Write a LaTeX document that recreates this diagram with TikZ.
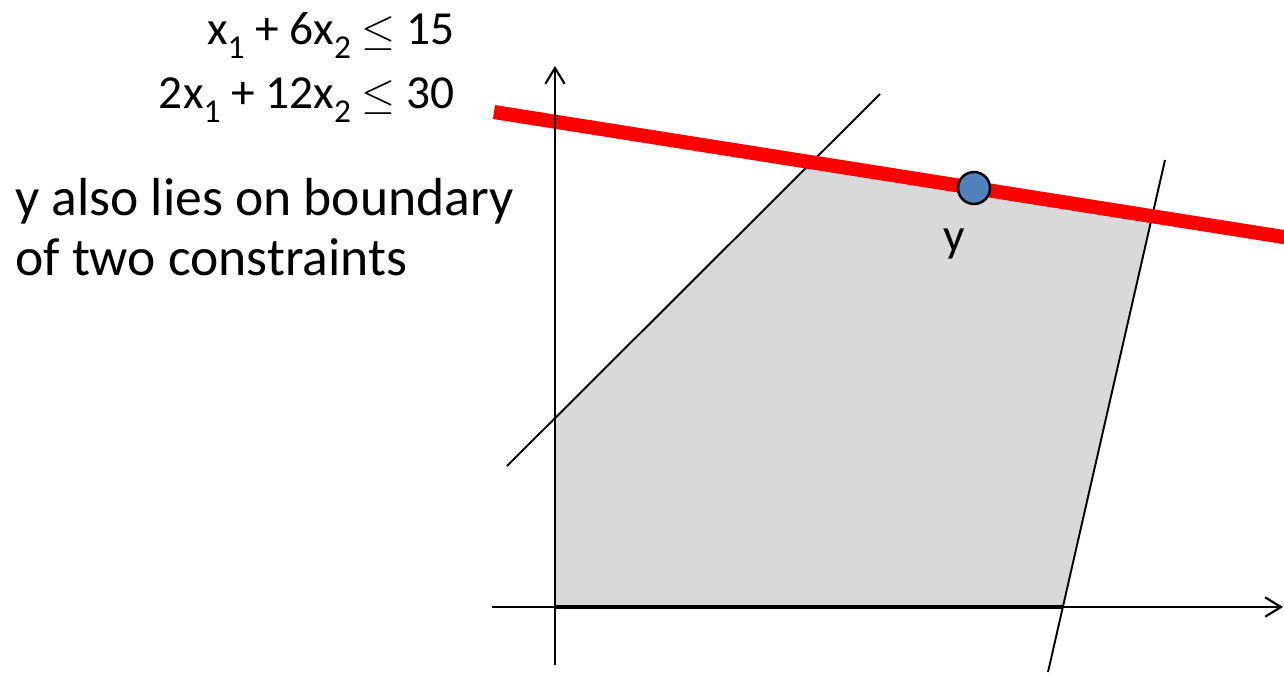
\documentclass[tikz,border=0pt]{standalone}
\usepackage{fontspec}
\setmainfont{Carlito}
\usetikzlibrary{arrows.meta, positioning, calc}
\definecolor{pointblue}{HTML}{4F81BD}
\definecolor{regiongray}{HTML}{D9D9D9}
\definecolor{tightred}{HTML}{FF0000}
\newcommand{\subidx}[1]{\raisebox{-0.3em}{\fontsize{19}{19}\selectfont #1}}

\begin{document}
\begin{tikzpicture}[
  x=0.02cm, y=-0.02cm,
  axis/.style={line width=1.2pt, -{Straight Barb[length=9pt, width=11pt, line width=1.2pt]}},
  constraint/.style={line width=1.1pt},
  tight/.style={line width=8pt, tightred},
  label/.style={font=\fontsize{27}{34}\selectfont, inner sep=0pt},
  remark/.style={font=\fontsize{30.5}{34}\selectfont, inner sep=0pt},
  point/.style={draw, circle, fill=pointblue, line width=1.4pt,
    minimum size=0.64cm, inner sep=0pt}
]
  \useasboundingbox (0,0) rectangle (1284,674);

  % Corners of the feasible region
  \coordinate (orig) at (554,607);
  \coordinate (cA) at (554,419);
  \coordinate (cB) at (811.8,162.3);
  \coordinate (cC) at (1152.2,216.1);
  \coordinate (cD) at (1062.9,607);
  \fill[regiongray] (orig) -- (cA) -- (cB) -- (cC) -- (cD) -- cycle;
  \draw[line width=2pt] (orig) -- (cD);

  % Constraint lines
  \coordinate (l1) at (507,466);
  \coordinate (l2) at (880,94);
  \coordinate (r1) at (1048,672);
  \coordinate (r2) at (1165,160);
  \coordinate (t1) at (494,112);
  \coordinate (t2) at (1290,238);
  \draw[constraint] (l1) -- (l2);
  \draw[constraint] (r1) -- (r2);
  \draw[tight] (t1) -- (t2);

  % Axes
  \coordinate (ybot) at (555,665);
  \coordinate (ytop) at (555,66);
  \coordinate (xleft) at (492,607);
  \coordinate (xright) at (1283,607);
  \draw[axis] (ybot) -- (ytop);
  \draw[axis] (xleft) -- (xright);

  % The point y
  \node[point] (y) at (974,188) {};
  \node[label, anchor=base] (ylab) at (954,251) {y};

  % Texts
  \node[label, anchor=base east] (eq1) at (455,44)
    {x\subidx{1} + 6x\subidx{2} $\leq$ 15};
  \node[label, anchor=base east] (eq2) at (455,108)
    {2x\subidx{1} + 12x\subidx{2} $\leq$ 30};
  \node[remark, anchor=base west, align=left] (note) at (15,275)
    {y also lies on boundary\\of two constraints};
\end{tikzpicture}
\end{document}
